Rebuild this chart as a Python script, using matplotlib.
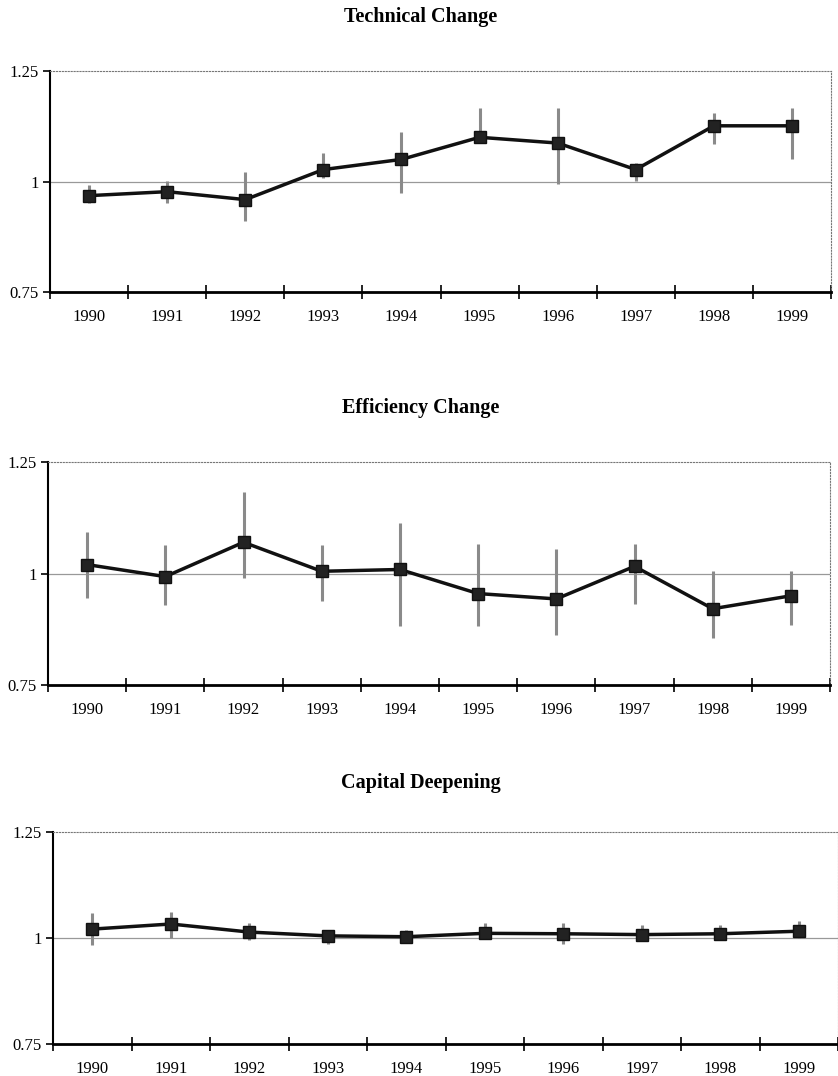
import matplotlib.pyplot as plt
import numpy as np

plt.rcParams['font.family'] = ['Liberation Serif', 'DejaVu Serif']

years = ['1990', '1991', '1992', '1993', '1994', '1995', '1996', '1997', '1998', '1999']

tech_val = [0.968, 0.977, 0.959, 1.027, 1.050, 1.100, 1.087, 1.027, 1.126, 1.126]
tech_hi = [0.991, 1.002, 1.021, 1.064, 1.112, 1.167, 1.167, 1.041, 1.155, 1.167]
tech_lo = [0.952, 0.952, 0.911, 1.009, 0.973, 1.089, 0.995, 1.002, 1.085, 1.052]

eff_val = [1.020, 0.993, 1.070, 1.005, 1.009, 0.955, 0.943, 1.016, 0.921, 0.950]
eff_hi = [1.093, 1.063, 1.183, 1.063, 1.113, 1.066, 1.054, 1.066, 1.005, 1.005]
eff_lo = [0.946, 0.930, 0.991, 0.939, 0.882, 0.882, 0.862, 0.932, 0.855, 0.884]

cap_val = [1.021, 1.033, 1.014, 1.005, 1.003, 1.011, 1.010, 1.008, 1.010, 1.016]
cap_hi = [1.059, 1.061, 1.035, 1.020, 1.020, 1.035, 1.035, 1.030, 1.030, 1.040]
cap_lo = [0.984, 1.000, 0.995, 0.985, 0.990, 1.000, 0.985, 1.000, 1.000, 1.000]

# title, values, low, high, axes box in pixels (left, top, right, bottom), title y
panels = [
    ('Technical Change', tech_val, tech_lo, tech_hi, [50, 71, 831, 292], 17),
    ('Efficiency Change', eff_val, eff_lo, eff_hi, [48, 462, 830, 685], 408),
    ('Capital Deepening', cap_val, cap_lo, cap_hi, [53, 832, 838, 1044], 783),
]

W, H = 838, 1076
fig = plt.figure(figsize=(W / 100, H / 100), dpi=100)

x = np.arange(len(years))
for title, val, lo, hi, (l, t, r, b), ty in panels:
    ax = fig.add_axes([l / W, 1 - b / H, (r - l) / W, (b - t) / H])
    val = np.array(val)
    yerr = [val - np.array(lo), np.array(hi) - val]
    ax.errorbar(x, val, yerr=yerr, fmt='none', ecolor='#8a8a8a', elinewidth=2.2, capsize=0, zorder=2)
    ax.plot(x, val, color='#111111', linewidth=2.5, marker='s', markersize=8,
            markerfacecolor='#222222', markeredgecolor='#111111', zorder=3)
    ax.axhline(1, color='#999999', linewidth=0.9, zorder=1)
    ax.set_xlim(-0.5, len(years) - 0.5)
    ax.set_ylim(0.75, 1.25)
    ax.set_yticks([0.75, 1, 1.25])
    ax.set_yticklabels(['0.75', '1', '1.25'])
    ax.set_xticks(x)
    ax.set_xticklabels(years)
    ax.set_xticks(np.arange(-0.5, len(years)), minor=True)
    ax.tick_params(axis='x', which='major', length=0, pad=12, labelsize=12)
    ax.tick_params(axis='x', which='minor', length=10, direction='inout', width=1.2)
    ax.tick_params(axis='y', length=5, direction='out', width=1.2, labelsize=12, pad=3)
    ax.spines['left'].set_linewidth(1.5)
    ax.spines['bottom'].set_linewidth(2)
    ax.spines['top'].set_linestyle(':')
    ax.spines['top'].set_color('#777777')
    ax.spines['right'].set_linestyle(':')
    ax.spines['right'].set_color('#777777')
    fig.text(421 / W, 1 - ty / H, title, ha='center', va='center',
             fontsize=14.5, fontweight='bold')

fig.savefig('out.png', dpi=100)
